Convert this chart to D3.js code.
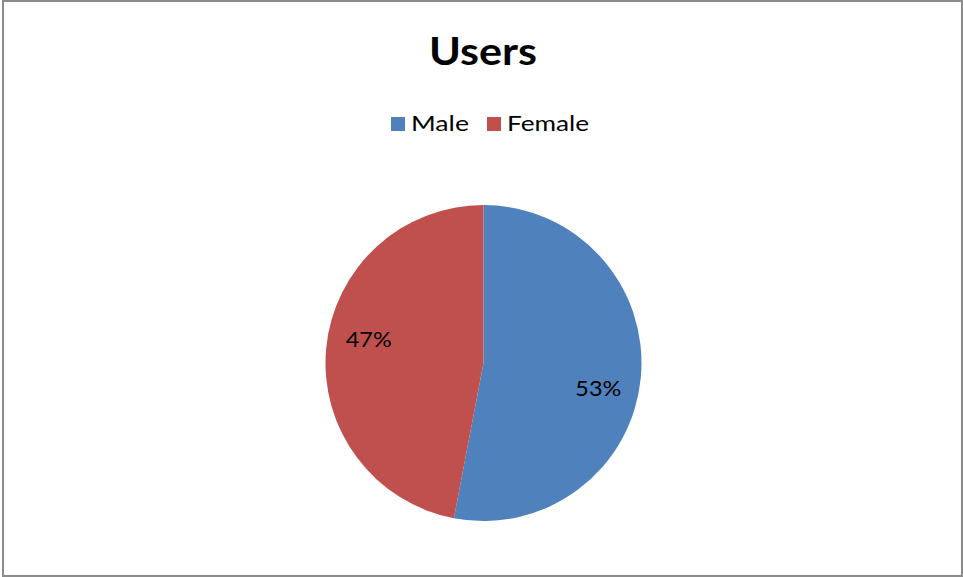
<!DOCTYPE html>
<html><head><meta charset="utf-8">
<script src="https://cdn.jsdelivr.net/npm/d3@7"></script>
<style>html,body{margin:0;padding:0;background:#fff;}svg{display:block;}</style>
</head><body>
<svg id="chart" width="963" height="577"></svg>
<script>
const categories = ["Male", "Female"];
const values = [53, 47];
const colors = ["#4F81BD", "#C0504D"];
const title = "Users";

const svg = d3.select("#chart");
const font = "Lato, 'Open Sans', sans-serif";

svg.append("rect").attr("x", 3).attr("y", 1).attr("width", 959).attr("height", 575)
  .attr("fill", "#fff").attr("stroke", "#8c8c8c").attr("stroke-width", 2);

svg.append("text").attr("x", 429).attr("y", 65)
  .attr("font-family", font).attr("font-weight", "bold").attr("font-size", 39)
  .attr("textLength", 108).attr("lengthAdjust", "spacingAndGlyphs")
  .attr("fill", "#000").text(title);

// legend
const legendX = [391, 487];
const legendW = [58, 82];
const color = d3.scaleOrdinal().domain(categories).range(colors);
const lg = svg.append("g");
categories.forEach((c, i) => {
  lg.append("rect").attr("x", legendX[i]).attr("y", 117).attr("width", 14).attr("height", 14).attr("fill", color(c));
  lg.append("text").attr("x", legendX[i] + 20).attr("y", 131).attr("font-family", font)
    .attr("font-size", 21).attr("textLength", legendW[i]).attr("lengthAdjust", "spacingAndGlyphs")
    .attr("fill", "#000").text(c);
});

const cx = 483.5, cy = 363, r = 158;
const pie = d3.pie().sort(null).value(d => d)(values);
const arc = d3.arc().innerRadius(0).outerRadius(r);
const g = svg.append("g").attr("transform", `translate(${cx},${cy})`);
g.selectAll("path").data(pie).enter().append("path")
  .attr("d", arc).attr("fill", (d, i) => color(categories[i]));

const total = d3.sum(values);
const labelArc = d3.arc().innerRadius(r * 0.73).outerRadius(r * 0.73);
g.selectAll("text.lbl").data(pie).enter().append("text")
  .attr("class", "lbl")
  .attr("x", d => labelArc.centroid(d)[0] - 23)
  .attr("y", d => { const [x, y] = labelArc.centroid(d); return y + (x > 0 ? 14 : -13) + 8; })
  .attr("font-family", font).attr("font-size", 22).attr("fill", "#000")
  .attr("textLength", 46).attr("lengthAdjust", "spacingAndGlyphs")
  .text(d => Math.round(d.data / total * 100) + "%");
</script>
</body></html>
